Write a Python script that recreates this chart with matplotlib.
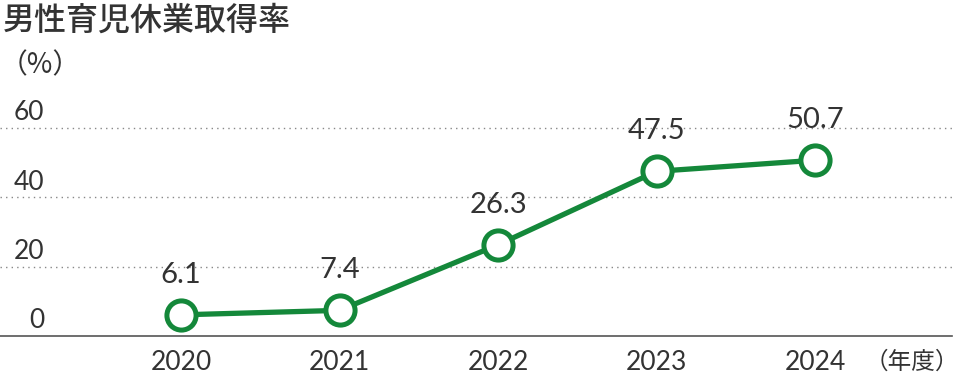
import matplotlib
matplotlib.use("Agg")
import matplotlib.pyplot as plt

years = [2020, 2021, 2022, 2023, 2024]
rates = [6.1, 7.4, 26.3, 47.5, 50.7]
yticks = [0, 20, 40, 60]
title = "男性育児休業取得率"
unit_y = "（%）"
unit_x = "（年度）"

green = "#14883A"
text_c = "#333333"
num_font = ["Lato", "DejaVu Sans"]
jp_font = ["Noto Sans CJK JP", "DejaVu Sans"]

W, H = 960, 384
fig = plt.figure(figsize=(W / 100, H / 100), dpi=100)
# axes: x from 0 to 952 px, y from 336 (value 0) to 128 (value 60)
ax = fig.add_axes([0, (H - 336) / H, 952 / W, (336 - 128) / H])
ax.set_xlim(2020 - 181 / 158.5, 2020 + (952 - 181) / 158.5)
ax.set_ylim(0, 60)
for s in ax.spines.values():
    s.set_visible(False)
ax.set_xticks([])
ax.set_yticks([])

for v in yticks:
    if v == 0:
        ax.axhline(0, color="#555555", lw=1.2, clip_on=False, zorder=1)
    else:
        ax.axhline(v, color="#888888", lw=1.0, ls=(0, (1, 3)), clip_on=False, zorder=1)
    ax.annotate(str(v), xy=(0, v), xycoords=("axes fraction", "data"),
                xytext=(44, 15), textcoords="offset pixels", ha="right", va="center",
                fontsize=19, color=text_c, family=num_font)

ax.plot(years, rates, color=green, lw=3.8, marker="o", markersize=21,
        markerfacecolor="white", markeredgecolor=green, markeredgewidth=3.6,
        clip_on=False, zorder=3)

for x, y in zip(years, rates):
    ax.annotate(f"{y:.1f}", xy=(x, y), xytext=(0, 40), textcoords="offset pixels",
                ha="center", va="center", fontsize=21, color=text_c, family=num_font)
    ax.annotate(str(x), xy=(x, 0), xytext=(0, -27), textcoords="offset pixels",
                ha="center", va="center", fontsize=19, color=text_c, family=num_font)

fig.text(959 / W, 1 - 362 / H, unit_x, ha="right", va="center", fontsize=17,
         color=text_c, family=jp_font)
fig.text(3 / W, 1 - 21 / H, title, ha="left", va="center", fontsize=23,
         color=text_c, family=jp_font, weight="medium")
fig.text(0 / W, 1 - 65 / H, unit_y, ha="left", va="center", fontsize=20,
         color=text_c, family=jp_font)

fig.savefig("out.png", dpi=100, facecolor="white")
